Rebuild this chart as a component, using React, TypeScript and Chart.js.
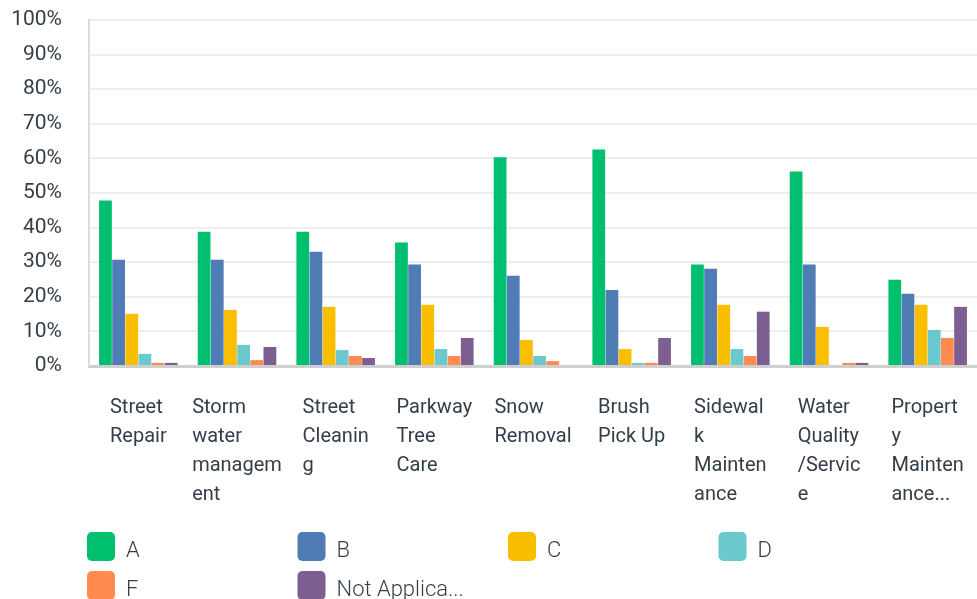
import React, { useEffect, useRef } from "react";
import { Chart, registerables } from "chart.js";

Chart.register(...registerables);

const categories: string[][] = [
  ["Street", "Repair"],
  ["Storm", "water", "managem", "ent"],
  ["Street", "Cleanin", "g"],
  ["Parkway", "Tree", "Care"],
  ["Snow", "Removal"],
  ["Brush", "Pick Up"],
  ["Sidewal", "k", "Mainten", "ance"],
  ["Water", "Quality", "/Servic", "e"],
  ["Propert", "y", "Mainten", "ance..."],
];

const seriesNames = ["A", "B", "C", "D", "F", "Not Applica..."];
const seriesColors = ["#00bf6f", "#507cb6", "#f9be00", "#6bc8cd", "#ff8b4f", "#7d5e90"];

const valuesA = [47.8, 38.8, 38.8, 35.7, 60.3, 62.6, 29.3, 56.2, 24.9];
const valuesB = [30.7, 30.7, 33.0, 29.3, 26.1, 22.0, 28.1, 29.3, 20.9];
const valuesC = [15.1, 16.2, 17.1, 17.7, 7.5, 4.9, 17.7, 11.3, 17.7];
const valuesD = [3.5, 6.1, 4.6, 4.9, 2.9, 0.9, 4.9, 0.3, 10.4];
const valuesF = [0.9, 1.7, 2.9, 2.9, 1.4, 0.9, 2.9, 0.9, 8.1];
const valuesNA = [0.9, 5.5, 2.3, 8.1, 0.3, 8.1, 15.7, 0.9, 17.1];

const allValues = [valuesA, valuesB, valuesC, valuesD, valuesF, valuesNA];

const TEXT = "#333e48";

const xLabelsPlugin = {
  id: "xLabels",
  afterDraw(chart: any) {
    const ctx = chart.ctx;
    const xs = chart.scales.x;
    ctx.save();
    ctx.font = "20px Roboto";
    ctx.fillStyle = TEXT;
    ctx.textAlign = "left";
    ctx.textBaseline = "alphabetic";
    categories.forEach((lines, i) => {
      const cx = xs.getPixelForValue(i);
      const maxW = Math.max(...lines.map((l) => ctx.measureText(l).width));
      const x0 = cx - maxW / 2;
      lines.forEach((l, k) => {
        ctx.fillText(l, x0, chart.chartArea.bottom + 46.5 + 29 * k);
      });
    });
    ctx.restore();
  },
};

const legendPlugin = {
  id: "gridLegend",
  afterDraw(chart: any) {
    const ctx = chart.ctx;
    ctx.save();
    ctx.font = "300 22px Roboto";
    ctx.textAlign = "left";
    ctx.textBaseline = "alphabetic";
    chart.data.datasets.forEach((ds: any, i: number) => {
      const col = i % 4;
      const row = Math.floor(i / 4);
      const bx = 87 + col * 210.5;
      const by = 532 + row * 39;
      ctx.fillStyle = ds.backgroundColor;
      ctx.beginPath();
      (ctx as any).roundRect(bx, by, 28, 29, 5);
      ctx.fill();
      ctx.fillStyle = TEXT;
      ctx.fillText(ds.label, bx + 39, by + 25);
    });
    ctx.restore();
  },
};

export default function App() {
  const ref = useRef<HTMLCanvasElement>(null);
  useEffect(() => {
    document.body.style.margin = "0";
    const chart = new Chart(ref.current as HTMLCanvasElement, {
      type: "bar",
      data: {
        labels: categories.map((c) => c.join(" ")),
        datasets: seriesNames.map((name, i) => ({
          label: name,
          data: allValues[i],
          backgroundColor: seriesColors[i],
          borderWidth: 0,
          categoryPercentage: 0.8,
          barPercentage: 0.97,
        })),
      },
      options: {
        responsive: false,
        animation: false,
        layout: { padding: { top: 20, bottom: 225, left: 0, right: 0 } },
        plugins: {
          legend: { display: false },
          tooltip: { enabled: false },
        },
        scales: {
          x: {
            ticks: { display: false },
            grid: { display: false },
            border: { display: true, color: "#cfcfcf", width: 3 },
          },
          y: {
            min: 0,
            max: 100,
            afterFit: (scale: any) => {
              scale.width = 89;
              scale.paddingTop = 0;
              scale.paddingBottom = 0;
            },
            ticks: {
              stepSize: 10,
              padding: 27,
              color: TEXT,
              font: { family: "Roboto", size: 21 },
              callback: (v: any) => v + "%",
            },
            grid: { color: "#eeeeee", lineWidth: 2, drawTicks: false },
            border: { display: true, color: "#dddddd", width: 2 },
          },
        },
      },
      plugins: [xLabelsPlugin, legendPlugin],
    });
    return () => chart.destroy();
  }, []);
  return (
    <div style={{ position: "absolute", left: 0, top: 0, width: 977, height: 599 }}>
      <canvas ref={ref} width={977} height={599} />
    </div>
  );
}
